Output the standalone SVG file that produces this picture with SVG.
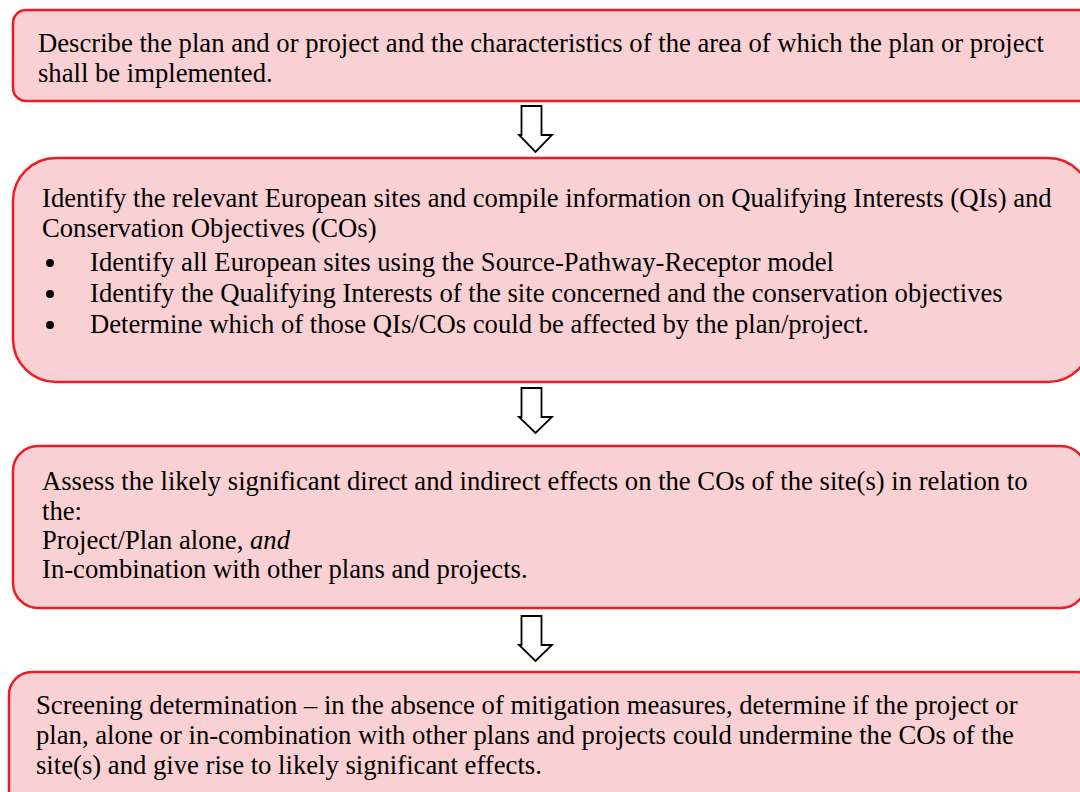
<svg xmlns="http://www.w3.org/2000/svg" width="1080" height="792" viewBox="0 0 1080 792">
<style>
.box{fill:#f9d0d3;stroke:#ed1c24;stroke-width:2.5}
.t{font-family:"Liberation Serif","Times New Roman",serif;font-size:26.67px;fill:#000}
.arr{fill:#fff;stroke:#000;stroke-width:1.8;stroke-linejoin:miter}
.dot{fill:#000}
</style>
<rect width="1080" height="792" fill="#fff"/>
<g id="node1">
<rect class="box" x="13" y="10" width="1085" height="91" rx="13"/>
<text class="t" x="38" y="52">Describe the plan and or project and the characteristics of the area of which the plan or project</text>
<text class="t" x="38" y="82">shall be implemented.</text>
</g>
<g id="node2">
<rect class="box" x="13" y="158" width="1078" height="224" rx="43"/>
<text class="t" x="42" y="207">Identify the relevant European sites and compile information on Qualifying Interests (QIs) and</text>
<text class="t" x="42" y="237">Conservation Objectives (COs)</text>
<circle class="dot" cx="50" cy="263" r="4"/>
<text class="t" x="90" y="271">Identify all European sites using the Source-Pathway-Receptor model</text>
<circle class="dot" cx="50" cy="294" r="4"/>
<text class="t" x="90" y="302">Identify the Qualifying Interests of the site concerned and the conservation objectives</text>
<circle class="dot" cx="50" cy="325" r="4"/>
<text class="t" x="90" y="333">Determine which of those QIs/COs could be affected by the plan/project.</text>
</g>
<g id="node3">
<rect class="box" x="13" y="446" width="1073" height="162" rx="25"/>
<text class="t" x="42" y="490">Assess the likely significant direct and indirect effects on the COs of the site(s) in relation to</text>
<text class="t" x="42" y="520">the:</text>
<text class="t" x="42" y="549">Project/Plan alone, <tspan font-style="italic">and</tspan></text>
<text class="t" x="42" y="578">In-combination with other plans and projects.</text>
</g>
<g id="node4">
<rect class="box" x="9" y="672" width="1090" height="140" rx="23"/>
<text class="t" x="36" y="714">Screening determination – in the absence of mitigation measures, determine if the project or</text>
<text class="t" x="36" y="744">plan, alone or in-combination with other plans and projects could undermine the COs of the</text>
<text class="t" x="36" y="774">site(s) and give rise to likely significant effects.</text>
</g>
<g id="connectors">
<path class="arr" d="M521.5,106 H541.5 V135 H552 L535.5,152 L519,135 H521.5 Z"/>
<path class="arr" d="M521.5,388 H541.5 V417 H552 L535.5,433 L519,417 H521.5 Z"/>
<path class="arr" d="M521.5,616 H541.5 V645 H552 L535.5,661 L519,645 H521.5 Z"/>
</g>
</svg>
